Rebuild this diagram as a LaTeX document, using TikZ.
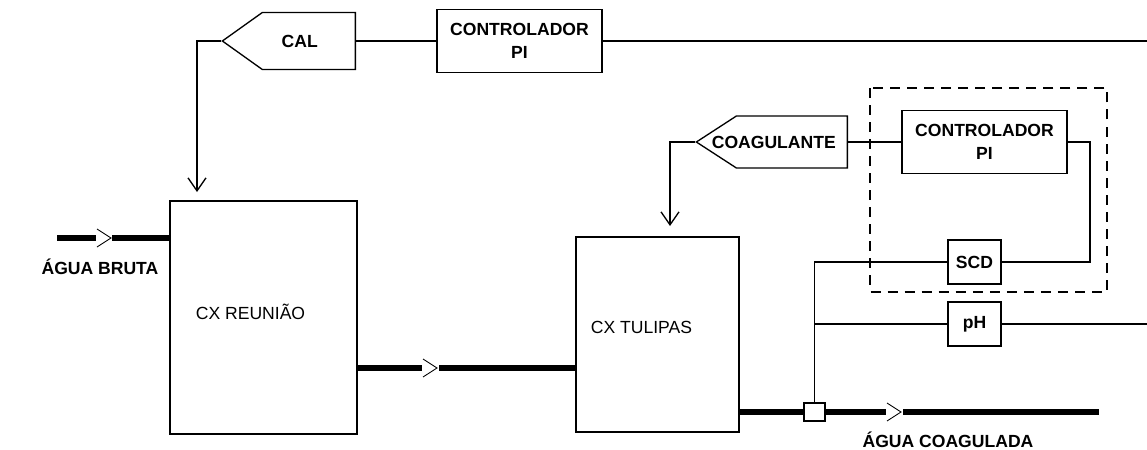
\documentclass[tikz,border=0pt]{standalone}
\usepackage{fontspec}
\setmainfont{Liberation Sans}
\usetikzlibrary{arrows.meta,positioning,shapes.symbols}

\tikzset{
  thinline/.style={line width=0.75pt},
  flow/.style={line width=2.9pt},
  ctlbox/.style={draw,thinline,align=center,font=\bfseries\fontsize{10}{13}\selectfont,
    minimum width=3.3cm,minimum height=1.26cm,inner sep=1pt},
  tank/.style={draw,thinline,inner sep=1pt},
  sensor/.style={draw,thinline,font=\bfseries,minimum width=1.06cm,minimum height=0.88cm,inner sep=1pt},
  dosing/.style={draw,thinline,signal,signal to=west,inner sep=0pt},
  streamlabel/.style={font=\bfseries,inner sep=0pt},
  chev/.pic={\draw[line width=0.5pt] (-7,-9) -- (7,0) -- (-7,9);},
}

\begin{document}
\begin{tikzpicture}[x=0.02cm,y=-0.02cm,>={Straight Barb[length=0.26cm,width=0.36cm]}]
  \useasboundingbox (0,0) rectangle (1147,450);

  % caixas
  \node[tank,minimum width=3.74cm,minimum height=4.66cm,
    label={[shift={(-13,-6)}]center:CX REUNIÃO}] (cxr) at (263.5,317.5) {};
  \node[tank,minimum width=3.26cm,minimum height=3.9cm,
    label={[shift={(-16,-7)}]center:CX TULIPAS}] (cxt) at (657.5,334.5) {};

  % malha da cal
  \node[ctlbox] (pi1) at (519.5,41) {CONTROLADOR\\PI};
  \node[dosing,signal pointer angle=71,minimum width=2.66cm,minimum height=1.14cm,anchor=east,
    label={[font=\bfseries,anchor=east,xshift=-0.64cm]east:CAL}] (cal) at (356,41) {};
  \coordinate (calin) at (197,192);
  \coordinate (topout) at (1147,41);
  \draw[thinline] (cal.east) -- (pi1.west);
  \draw[thinline] (pi1.east) -- (topout);
  \draw[thinline,->] (cal.west) -| (calin);

  % malha do coagulante
  \node[ctlbox] (pi2) at (984.5,142) {CONTROLADOR\\PI};
  \node[dosing,signal pointer angle=66,minimum width=3.02cm,minimum height=1.04cm,anchor=east,
    label={[font=\bfseries,anchor=east,xshift=-0.12cm]east:COAGULANTE}] (coag) at (848,142) {};
  \coordinate (coagin) at (670,226);
  \draw[thinline] (coag.east) -- (pi2.west);
  \draw[thinline,->] (coag.west) -| (coagin);

  % medidores
  \node[sensor] (scd) at (974.5,262) {SCD};
  \node[sensor] (ph) at (974.5,324) {pH};
  \node[draw,thinline,minimum width=0.42cm,minimum height=0.36cm,inner sep=0pt] (tap) at (814.5,412) {};
  \coordinate (fbk) at (1090,262);
  \coordinate (phout) at (1147,324);
  \draw[thinline] (pi2.east) -| (fbk) -- (scd.east);
  \draw[thinline] (scd.west) -| (tap.north);
  \draw[thinline] (ph.west) -- (ph.west -| tap.north);
  \draw[thinline] (ph.east) -- (phout);
  \draw[thinline,dash pattern=on 5.7pt off 4pt] (870,88) rectangle (1107,292);

  % linhas de agua
  \coordinate (brutain) at (57,238);
  \coordinate (j1) at (430,368);
  \coordinate (coagout) at (1099,412);
  \draw[flow] (brutain) -- (96,238);
  \pic at (104,238) {chev};
  \draw[flow] (112,238) -- (cxr.west |- brutain);
  \draw[flow] (cxr.east |- j1) -- (422,368);
  \pic at (j1) {chev};
  \draw[flow] (439,368) -- (cxt.west |- j1);
  \draw[flow] (cxt.east |- tap) -- (tap.west);
  \draw[flow] (tap.east) -- (886,412);
  \pic at (894,412) {chev};
  \draw[flow] (903,412) -- (coagout);

  \node[streamlabel] (bruta) at (100,267) {ÁGUA BRUTA};
  \node[streamlabel] (coagulada) at (948,440) {ÁGUA COAGULADA};
\end{tikzpicture}
\end{document}
